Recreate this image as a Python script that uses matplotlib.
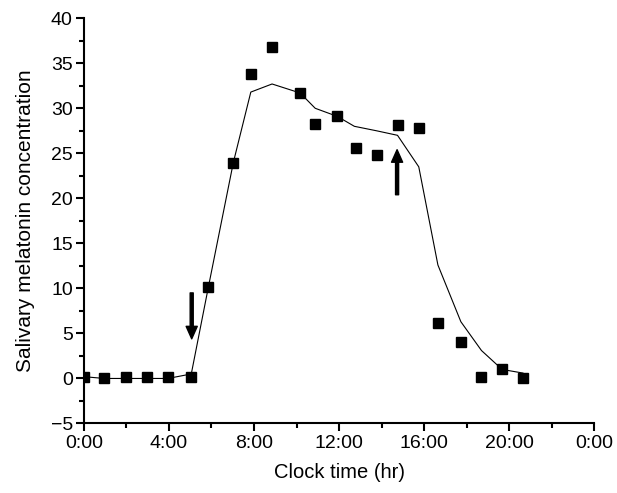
import matplotlib.pyplot as plt
from matplotlib.ticker import MultipleLocator, FuncFormatter

plt.rcParams["font.family"] = ["Liberation Sans", "DejaVu Sans"]

# Measured samples (clock time in hours, concentration)
sample_time = [0.0, 0.95, 2.0, 2.95, 3.95, 5.05, 5.85, 7.03, 7.85, 8.85, 10.17,
               10.88, 11.92, 12.78, 13.77, 14.75, 15.75, 16.65, 17.73, 18.7,
               19.67, 20.65]
sample_conc = [0.2, 0.0, 0.2, 0.2, 0.2, 0.2, 10.2, 23.9, 33.8, 36.8, 31.7,
               28.3, 29.1, 25.6, 24.8, 28.2, 27.8, 6.2, 4.1, 0.2, 1.1, 0.0]

# Fitted curve
fit_time = [0.0, 0.95, 2.0, 2.95, 3.95, 5.05, 5.85, 7.03, 7.85, 8.85, 10.17,
            10.88, 11.92, 12.72, 13.77, 14.75, 15.75, 16.65, 17.73, 18.7,
            19.67, 20.65]
fit_conc = [0.2, 0.0, 0.0, 0.0, 0.0, 0.5, 10.1, 24.0, 31.8, 32.7, 31.7,
            30.0, 29.1, 28.0, 27.5, 27.0, 23.5, 12.6, 6.3, 3.1, 1.0, 0.6]

# Arrows: (time, tail, head)
arrows = [(5.07, 9.5, 4.4), (14.73, 20.4, 25.4)]

fig = plt.figure(figsize=(6.17, 4.93), dpi=100)
ax = fig.add_axes([0.136, 0.141, 0.827, 0.822])

ax.plot(fit_time, fit_conc, color="black", linewidth=0.8)
ax.plot(sample_time, sample_conc, linestyle="none", marker="s", markersize=6.5,
        color="black")

for t, y0, y1 in arrows:
    ax.annotate("", xy=(t, y1), xytext=(t, y0),
                arrowprops=dict(facecolor="black", edgecolor="black",
                                width=2.2, headwidth=8, headlength=9))

ax.set_xlim(0, 24)
ax.set_ylim(-5, 40)
ax.xaxis.set_major_locator(MultipleLocator(4))
ax.xaxis.set_minor_locator(MultipleLocator(2))
ax.yaxis.set_major_locator(MultipleLocator(5))
ax.yaxis.set_minor_locator(MultipleLocator(2.5))
ax.xaxis.set_major_formatter(FuncFormatter(lambda v, p: "%d:00" % (int(round(v)) % 24)))
ax.yaxis.set_major_formatter(FuncFormatter(lambda v, p: ("%d" % v).replace("-", "\u2212")))

for s in ["top", "right"]:
    ax.spines[s].set_visible(False)
for s in ["left", "bottom"]:
    ax.spines[s].set_linewidth(1.5)

ax.tick_params(which="major", direction="out", length=6, width=1.5,
               labelsize=14, pad=2)
ax.tick_params(which="minor", direction="out", length=3.5, width=1.5)

ax.set_xlabel("Clock time (hr)", fontsize=14.5, labelpad=8)
ax.set_ylabel("Salivary melatonin concentration", fontsize=15, labelpad=11)

fig.savefig("out.png", dpi=100)
